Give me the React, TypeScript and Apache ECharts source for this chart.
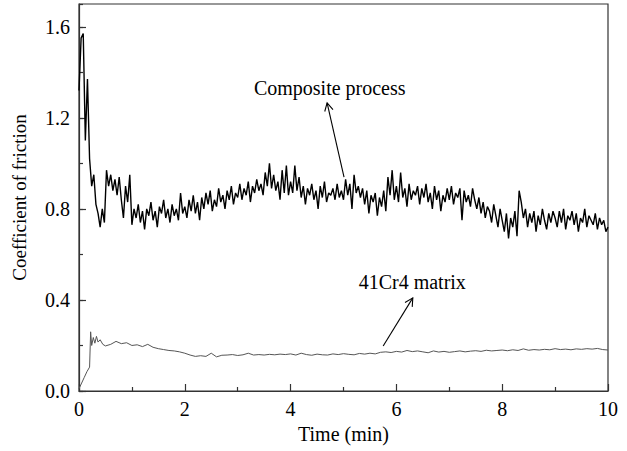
import React, { useEffect, useRef } from "react";
import * as echarts from "echarts";

// Composite process: coefficient of friction sampled every 0.04 min (0 .. 10 min)
const compositeStep = 0.04;
const compositeCof = [
  // 0.00 - 0.96
  1.32, 1.55, 1.57, 1.10, 1.37, 1.02, 0.90, 0.95, 0.82, 0.78, 0.72, 0.80, 0.74, 0.97, 0.90, 0.95, 0.88, 0.93, 0.86, 0.94, 0.84, 0.76, 0.90, 0.83, 0.95,
  // 1.00 - 1.96
  0.73, 0.80, 0.76, 0.82, 0.74, 0.79, 0.71, 0.80, 0.77, 0.83, 0.75, 0.79, 0.72, 0.81, 0.78, 0.84, 0.76, 0.80, 0.74, 0.82, 0.77, 0.80, 0.75, 0.87, 0.78,
  // 2.00 - 2.96
  0.81, 0.76, 0.84, 0.79, 0.86, 0.78, 0.83, 0.75, 0.85, 0.80, 0.87, 0.82, 0.88, 0.79, 0.84, 0.81, 0.89, 0.83, 0.86, 0.80, 0.88, 0.84, 0.90, 0.82, 0.87,
  // 3.00 - 3.96
  0.85, 0.91, 0.84, 0.89, 0.86, 0.92, 0.83, 0.90, 0.87, 0.93, 0.88, 0.91, 0.86, 0.96, 0.90, 1.00, 0.89, 0.95, 0.88, 0.92, 0.84, 0.97, 0.87, 0.99, 0.86,
  // 4.00 - 4.96
  0.92, 0.87, 0.99, 0.88, 0.94, 0.85, 0.90, 0.82, 0.89, 0.86, 0.91, 0.84, 0.88, 0.80, 0.90, 0.85, 0.92, 0.83, 0.87, 0.86, 0.89, 0.84, 0.91, 0.85, 0.88,
  // 5.00 - 5.96
  0.84, 0.93, 0.86, 0.91, 0.80, 0.95, 0.87, 0.90, 0.85, 0.89, 0.82, 0.88, 0.78, 0.86, 0.83, 0.87, 0.77, 0.85, 0.81, 0.88, 0.79, 0.94, 0.86, 0.97, 0.84,
  // 6.00 - 6.96
  0.90, 0.83, 0.96, 0.85, 0.89, 0.81, 0.91, 0.84, 0.88, 0.86, 0.90, 0.82, 0.89, 0.85, 0.91, 0.83, 0.87, 0.80, 0.90, 0.84, 0.88, 0.79, 0.86, 0.83, 0.89,
  // 7.00 - 7.96
  0.84, 0.90, 0.82, 0.87, 0.85, 0.89, 0.75, 0.88, 0.83, 0.86, 0.81, 0.89, 0.84, 0.80, 0.85, 0.78, 0.83, 0.76, 0.81, 0.79, 0.74, 0.82, 0.77, 0.72, 0.80,
  // 8.00 - 8.96
  0.75, 0.70, 0.78, 0.67, 0.76, 0.72, 0.79, 0.68, 0.88, 0.83, 0.76, 0.80, 0.72, 0.78, 0.74, 0.79, 0.70, 0.77, 0.73, 0.80, 0.75, 0.71, 0.78, 0.74, 0.79,
  // 9.00 - 9.96
  0.76, 0.72, 0.79, 0.74, 0.80, 0.71, 0.77, 0.75, 0.79, 0.73, 0.78, 0.70, 0.76, 0.74, 0.80, 0.72, 0.77, 0.75, 0.73, 0.78, 0.71, 0.76, 0.73, 0.75, 0.70,
  // 10.00
  0.72,
];

// 41Cr4 matrix: running-in part as [time, cof] pairs
const matrixStart: [number, number][] = [
  [0, 0.01], [0.05, 0.035], [0.1, 0.06], [0.15, 0.085], [0.2, 0.105], [0.22, 0.26],
  [0.24, 0.2], [0.27, 0.235], [0.3, 0.21], [0.33, 0.24], [0.36, 0.215], [0.4, 0.225], [0.45, 0.205],
];
// 41Cr4 matrix: steady part sampled every 0.1 min from 0.5 min
const matrixFrom = 0.5;
const matrixStep = 0.1;
const matrixCof = [
  0.198, 0.205, 0.218, 0.208, 0.212,
  0.200, 0.203, 0.195, 0.205, 0.192, 0.186, 0.182, 0.178, 0.176, 0.172,
  0.166, 0.158, 0.152, 0.155, 0.152, 0.166, 0.150, 0.157, 0.158, 0.160,
  0.156, 0.159, 0.166, 0.158, 0.160, 0.158, 0.161, 0.159, 0.162, 0.160,
  0.163, 0.158, 0.166, 0.160, 0.157, 0.162, 0.159, 0.158, 0.163, 0.160,
  0.164, 0.161, 0.159, 0.165, 0.162, 0.166, 0.163, 0.170, 0.172, 0.169,
  0.174, 0.171, 0.178, 0.173, 0.176, 0.172, 0.168, 0.176, 0.171, 0.174,
  0.170, 0.173, 0.176, 0.172, 0.175, 0.177, 0.174, 0.179, 0.176, 0.178,
  0.180, 0.177, 0.181, 0.178, 0.185, 0.179, 0.182, 0.180, 0.183, 0.181,
  0.186, 0.182, 0.184, 0.181, 0.185, 0.183, 0.186, 0.184, 0.187, 0.182,
  0.180,
];

const xLabel = "Time (min)";
const yLabel = "Coefficient of friction";

const annotations = [
  { label: "Composite process", text: [4.74, 1.33], tail: [5.01, 0.94], tip: [4.69, 1.266] },
  { label: "41Cr4 matrix", text: [6.3, 0.479], tail: [5.75, 0.198], tip: [6.31, 0.409] },
];

const FONT = '"Liberation Serif", "DejaVu Serif", serif';
const FS = 20;
const FRAME = "#333";

export default function App() {
  const ref = useRef<HTMLDivElement>(null);

  useEffect(() => {
    if (!ref.current) return;
    const chart = echarts.init(ref.current, undefined, { renderer: "svg" });

    const compositeData = compositeCof.map((v, i) => [+(i * compositeStep).toFixed(2), v]);
    const matrixData = [
      ...matrixStart,
      ...matrixCof.map((v, i) => [+(matrixFrom + i * matrixStep).toFixed(2), v]),
    ];

    const axisLabelStyle = { color: "#000", fontSize: FS, fontFamily: FONT };

    chart.setOption({
      animation: false,
      backgroundColor: "#fff",
      grid: {
        left: 79,
        right: 19,
        top: 4,
        bottom: 60,
        show: true,
        borderColor: FRAME,
        borderWidth: 1.2,
        containLabel: false,
      },
      xAxis: [
        {
          type: "value",
          min: 0,
          max: 10,
          interval: 2,
          name: xLabel,
          nameLocation: "middle",
          nameGap: 27,
          nameTextStyle: { color: "#000", fontSize: FS, fontFamily: FONT },
          axisLine: { show: true, lineStyle: { color: FRAME, width: 1.2 } },
          axisTick: { show: true, inside: true, length: 7, lineStyle: { color: FRAME, width: 1.2 } },
          minorTick: { show: true, splitNumber: 2, length: 4, lineStyle: { color: FRAME, width: 1.2 } },
          splitLine: { show: false },
          minorSplitLine: { show: false },
          axisLabel: { ...axisLabelStyle, margin: 8 },
        },
      ],
      yAxis: [
        {
          type: "value",
          min: 0,
          max: 1.7,
          interval: 0.4,
          name: yLabel,
          nameLocation: "middle",
          nameGap: 50,
          nameTextStyle: { color: "#000", fontSize: 19, fontFamily: FONT },
          axisLine: { show: true, lineStyle: { color: FRAME, width: 1.2 } },
          axisTick: { show: true, inside: true, length: 7, lineStyle: { color: FRAME, width: 1.2 } },
          splitLine: { show: false },
          axisLabel: {
            ...axisLabelStyle,
            margin: 9,
            showMaxLabel: false,
            formatter: (v: number) => (Math.abs(v / 0.4 - Math.round(v / 0.4)) < 1e-6 ? v.toFixed(1) : ""),
          },
        },
        {
          type: "value",
          min: 0,
          max: 1.7,
          interval: 0.2,
          position: "left",
          axisLine: { show: false },
          axisTick: { show: true, inside: true, length: 4, lineStyle: { color: FRAME, width: 1.2 } },
          axisLabel: { show: false },
          splitLine: { show: false },
        },
      ],
      series: [
        {
          name: "41Cr4 matrix",
          type: "line",
          data: matrixData,
          showSymbol: false,
          symbol: "none",
          lineStyle: { color: "#555", width: 1 },
          z: 2,
        },
        {
          name: "Composite process",
          type: "line",
          data: compositeData,
          showSymbol: false,
          symbol: "none",
          lineStyle: { color: "#000", width: 1.4 },
          z: 3,
        },
      ],
    });

    const graphics: any[] = [];
    annotations.forEach((a) => {
      const t = chart.convertToPixel({ gridIndex: 0 }, a.text) as number[];
      const s = chart.convertToPixel({ gridIndex: 0 }, a.tail) as number[];
      const e = chart.convertToPixel({ gridIndex: 0 }, a.tip) as number[];
      graphics.push({
        type: "text",
        x: t[0],
        y: t[1],
        style: {
          text: a.label,
          fill: "#000",
          fontSize: FS,
          fontFamily: FONT,
          align: "center",
          verticalAlign: "middle",
        },
      });
      graphics.push({
        type: "line",
        shape: { x1: s[0], y1: s[1], x2: e[0], y2: e[1] },
        style: { stroke: "#000", lineWidth: 1.1 },
      });
      const dx = e[0] - s[0];
      const dy = e[1] - s[1];
      const len = Math.hypot(dx, dy);
      const ux = dx / len;
      const uy = dy / len;
      const L = 9;
      const ang = (28 * Math.PI) / 180;
      const rot = (sgn: number) => {
        const c = Math.cos(sgn * ang);
        const sn = Math.sin(sgn * ang);
        const rx = ux * c - uy * sn;
        const ry = ux * sn + uy * c;
        return [e[0] - L * rx, e[1] - L * ry];
      };
      graphics.push({
        type: "polyline",
        shape: { points: [rot(1), e, rot(-1)] },
        style: { stroke: "#000", lineWidth: 1.1, fill: "none" },
      });
    });
    chart.setOption({ graphic: graphics });

    return () => chart.dispose();
  }, []);

  return (
    <div
      ref={ref}
      style={{ position: "fixed", left: 0, top: 0, width: 627, height: 451, background: "#fff" }}
    />
  );
}
